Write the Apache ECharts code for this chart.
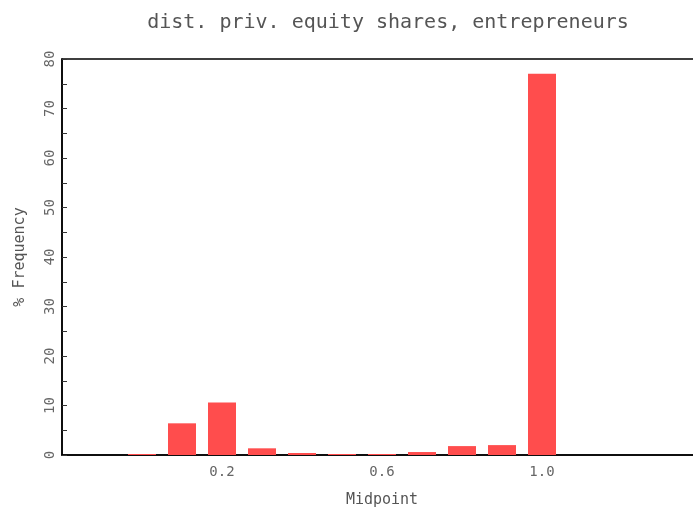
<!DOCTYPE html>
<html>
<head>
<meta charset="utf-8">
<script src="https://cdn.jsdelivr.net/npm/echarts@6/dist/echarts.min.js"></script>
<style>html,body{margin:0;padding:0;background:#fff;overflow:hidden;}#c{width:693px;height:507px;}</style>
</head>
<body>
<div id="c"></div>
<script>
var midpoints = [0.0, 0.1, 0.2, 0.3, 0.4, 0.5, 0.6, 0.7, 0.8, 0.9, 1.0];
var freq = [0.2, 6.4, 10.6, 1.35, 0.4, 0.2, 0.2, 0.6, 1.8, 2.0, 77.0];
var xTicks = [0.2, 0.6, 1.0];

var chart = echarts.init(document.getElementById('c'));
var font = 'DejaVu Sans Mono';
chart.setOption({
  animation: false,
  backgroundColor: '#fff',
  title: {
    text: 'dist. priv. equity shares, entrepreneurs',
    left: 383, top: 8, textAlign: 'center',
    textStyle: { fontFamily: font, fontSize: 20, fontWeight: 'normal', color: '#555' }
  },
  grid: { left: 62, right: -9, top: 59, bottom: 52, show: true, borderColor: '#000', borderWidth: 1.5,
    containLabel: false, outerBoundsMode: 'none' },
  xAxis: {
    type: 'value', min: -0.2, max: 1.4,
    name: 'Midpoint', nameLocation: 'middle', nameGap: 38,
    nameTextStyle: { fontFamily: font, fontSize: 15, color: '#555' },
    axisLine: { show: true, onZero: false, lineStyle: { color: '#000', width: 1.5 } },
    axisTick: { show: false },
    splitLine: { show: false },
    axisLabel: { customValues: xTicks, fontFamily: font, fontSize: 14, color: '#666', margin: 10,
      formatter: function (v) { return v.toFixed(1); } }
  },
  yAxis: {
    type: 'value', min: 0, max: 80, interval: 10,
    name: '% Frequency', nameLocation: 'middle', nameGap: 34, nameRotate: 90,
    nameTextStyle: { fontFamily: font, fontSize: 15, color: '#555' },
    axisLine: { show: true, onZero: false, lineStyle: { color: '#000', width: 1.5 } },
    axisTick: { show: true, inside: true, length: 5, lineStyle: { color: '#333' } },
    minorTick: { show: true, splitNumber: 2, length: 5, lineStyle: { color: '#333' } },
    splitLine: { show: false },
    axisLabel: { rotate: 90, fontFamily: font, fontSize: 14, color: '#666', margin: 5 }
  },
  series: [{
    type: 'bar',
    barWidth: 28,
    itemStyle: { color: '#ff4d4d' },
    data: midpoints.map(function (m, i) { return [m, freq[i]]; })
  }]
});
</script>
</body>
</html>
